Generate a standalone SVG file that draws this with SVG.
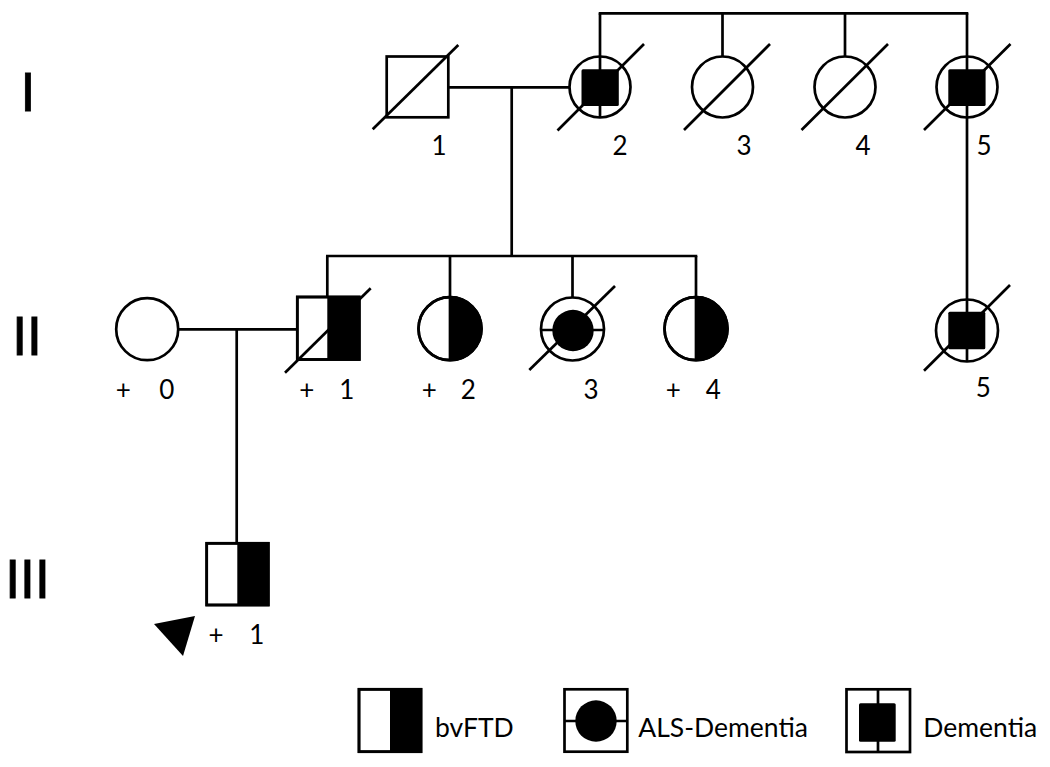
<svg xmlns="http://www.w3.org/2000/svg" width="1050" height="767" viewBox="0 0 1050 767">
<style>
.ln{stroke:#000;stroke-width:2.7;fill:none;stroke-linecap:butt}
.sh{stroke:#000;stroke-width:2.7;fill:#fff}
.bk{fill:#000;stroke:none}
.lbl{font-family:Lato,"Liberation Sans",sans-serif;font-size:26px;fill:#000;text-anchor:middle}
.gen{font-family:Lato,"Liberation Sans",sans-serif;font-size:53px;fill:#000;stroke:#000;stroke-width:0.8;text-anchor:middle}
.leg{font-family:Lato,"Liberation Sans",sans-serif;font-size:26.5px;fill:#000}
</style>
<rect width="1050" height="767" fill="#fff"/>
<g id="generations">
<text class="gen" x="28" y="110.7">I</text>
<text class="gen" x="27" y="355">II</text>
<text class="gen" x="27.5" y="598.3">III</text>
</g>
<g id="connectors">
<line class="ln" x1="598.7" y1="13.3" x2="968.3" y2="13.3"/>
<line class="ln" x1="600" y1="13.3" x2="600" y2="57"/>
<line class="ln" x1="722.5" y1="13.3" x2="722.5" y2="57"/>
<line class="ln" x1="845" y1="13.3" x2="845" y2="57"/>
<line class="ln" x1="967" y1="13.3" x2="967" y2="299"/>
<line class="ln" x1="448.3" y1="87.3" x2="569.5" y2="87.3"/>
<line class="ln" x1="511.7" y1="87.3" x2="511.7" y2="256"/>
<line class="ln" x1="326" y1="256" x2="697.3" y2="256"/>
<line class="ln" x1="327.3" y1="256" x2="327.3" y2="297"/>
<line class="ln" x1="450" y1="256" x2="450" y2="297.5"/>
<line class="ln" x1="572.5" y1="256" x2="572.5" y2="298"/>
<line class="ln" x1="696" y1="256" x2="696" y2="297.5"/>
<line class="ln" x1="178.3" y1="329.3" x2="297.3" y2="329.3"/>
<line class="ln" x1="236.7" y1="329.3" x2="236.7" y2="543.3"/>
</g>
<g id="I-1">
<rect class="sh" x="386.7" y="56.5" width="61.6" height="60.8"/>
<line class="ln" x1="372.7" y1="129.3" x2="458.3" y2="45"/>
<text class="lbl" x="439" y="154.5">1</text>
</g>
<g id="I-2">
<circle class="sh" cx="600" cy="87" r="30.5"/>
<rect class="bk" x="581.5" y="69.3" width="37.3" height="36.7" rx="1.5"/>
<line class="ln" x1="600" y1="56.5" x2="600" y2="117.5"/>
<line class="ln" x1="557.5" y1="130.5" x2="644" y2="44"/>
<text class="lbl" x="620" y="154.5">2</text>
</g>
<g id="I-3">
<circle class="sh" cx="722.5" cy="87" r="30.5"/>
<line class="ln" x1="684" y1="130" x2="770" y2="44"/>
<text class="lbl" x="744" y="154.5">3</text>
</g>
<g id="I-4">
<circle class="sh" cx="845" cy="87" r="30.5"/>
<line class="ln" x1="801.5" y1="130" x2="888" y2="44"/>
<text class="lbl" x="863" y="154.5">4</text>
</g>
<g id="I-5">
<circle class="sh" cx="967" cy="87" r="30.5"/>
<rect class="bk" x="948.3" y="69.3" width="37.3" height="36.7" rx="1.5"/>
<line class="ln" x1="967" y1="56.5" x2="967" y2="117.5"/>
<line class="ln" x1="924" y1="130" x2="1010.5" y2="44"/>
<text class="lbl" x="984" y="154.5">5</text>
</g>
<g id="II-0">
<circle class="sh" cx="147.2" cy="329.2" r="31"/>
<text class="lbl" x="123.3" y="398.8">+</text>
<text class="lbl" x="166.7" y="398.8">0</text>
</g>
<g id="II-1">
<rect class="sh" x="297.3" y="297" width="62" height="62.5"/>
<line class="ln" x1="285" y1="372.7" x2="370.7" y2="288.3"/>
<rect class="bk" x="327.3" y="297" width="32" height="62.5"/>
<rect x="297.3" y="297" width="62" height="62.5" fill="none" stroke="#000" stroke-width="2.7"/>
<text class="lbl" x="306.7" y="398.8">+</text>
<text class="lbl" x="346.7" y="398.8">1</text>
</g>
<g id="II-2">
<circle class="sh" cx="450" cy="328.7" r="31.5"/>
<path class="bk" d="M450 297.2 A31.5 31.5 0 0 1 450 360.2 Z"/>
<circle cx="450" cy="328.7" r="31.5" fill="none" stroke="#000" stroke-width="2.7"/>
<line class="ln" x1="450" y1="297.2" x2="450" y2="360.2"/>
<text class="lbl" x="429.3" y="398.8">+</text>
<text class="lbl" x="468.3" y="398.8">2</text>
</g>
<g id="II-3">
<circle class="sh" cx="572.5" cy="329" r="31.5"/>
<line class="ln" x1="541" y1="330" x2="604" y2="330"/>
<circle class="bk" cx="573" cy="330.5" r="20.7"/>
<line class="ln" x1="529.3" y1="370" x2="615" y2="286"/>
<text class="lbl" x="591" y="398.8">3</text>
</g>
<g id="II-4">
<circle class="sh" cx="696" cy="328.7" r="31.5"/>
<path class="bk" d="M696 297.2 A31.5 31.5 0 0 1 696 360.2 Z"/>
<circle cx="696" cy="328.7" r="31.5" fill="none" stroke="#000" stroke-width="2.7"/>
<line class="ln" x1="696" y1="297.2" x2="696" y2="360.2"/>
<text class="lbl" x="673.3" y="398.8">+</text>
<text class="lbl" x="713.3" y="398.8">4</text>
</g>
<g id="II-5">
<circle class="sh" cx="967" cy="330.5" r="31"/>
<rect class="bk" x="948.3" y="311.7" width="37" height="37.6" rx="1.5"/>
<line class="ln" x1="967" y1="299.5" x2="967" y2="361.5"/>
<line class="ln" x1="924" y1="370.7" x2="1010" y2="285"/>
<text class="lbl" x="983.3" y="397">5</text>
</g>
<g id="III-1">
<rect class="sh" x="206.7" y="543.3" width="61.6" height="61.7"/>
<rect class="bk" x="237.3" y="543.3" width="31" height="61.7"/>
<rect x="206.7" y="543.3" width="61.6" height="61.7" fill="none" stroke="#000" stroke-width="2.7"/>
<polygon class="bk" points="154,624 195,616 183,656"/>
<text class="lbl" x="216" y="644">+</text>
<text class="lbl" x="256.7" y="644">1</text>
</g>
<g id="legend-bvFTD">
<rect class="sh" x="359" y="689.3" width="62" height="62.4"/>
<rect class="bk" x="390" y="689.3" width="31" height="62.4"/>
<rect x="359" y="689.3" width="62" height="62.4" fill="none" stroke="#000" stroke-width="2.7"/>
<text class="leg" x="435" y="737">bvFTD</text>
</g>
<g id="legend-ALS">
<rect class="sh" x="564.5" y="689.3" width="62.8" height="62.4"/>
<line class="ln" x1="564.5" y1="721" x2="627.3" y2="721"/>
<circle class="bk" cx="596" cy="721" r="20.7"/>
<text class="leg" x="638.3" y="737">ALS-Dementia</text>
</g>
<g id="legend-Dementia">
<rect class="sh" x="846.5" y="689.3" width="63.5" height="62.7"/>
<line class="ln" x1="878" y1="689.3" x2="878" y2="752"/>
<rect class="bk" x="859" y="703.3" width="36.7" height="38.4" rx="1.5"/>
<text class="leg" x="923.3" y="737">Dementia</text>
</g>
</svg>
